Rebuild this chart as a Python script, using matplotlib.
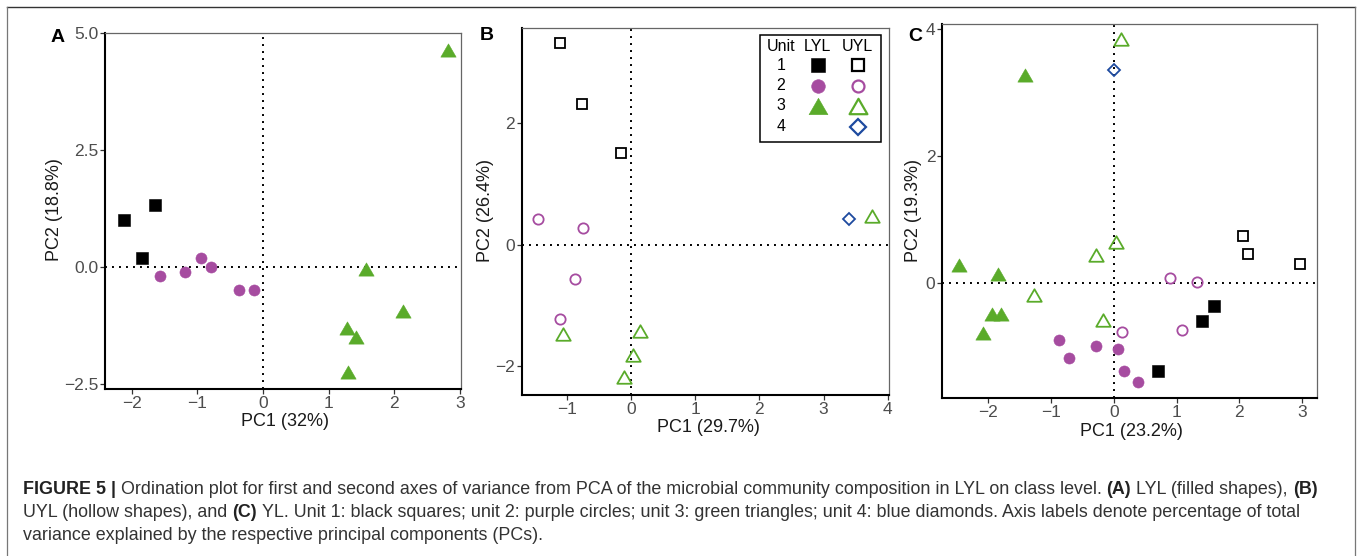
import matplotlib
matplotlib.use('Agg')
import matplotlib.pyplot as plt
from matplotlib.lines import Line2D
from matplotlib.patches import Rectangle
from matplotlib.path import Path

plt.rcParams['font.family'] = ['Liberation Sans', 'DejaVu Sans']

# ---- data ----
# panel A: LYL
a_sq_x = [-2.12, -1.64, -1.84]
a_sq_y = [1.00, 1.33, 0.19]
a_ci_x = [-1.57, -1.19, -0.94, -0.80, -0.37, -0.13]
a_ci_y = [-0.19, -0.11, 0.19, 0.00, -0.49, -0.49]
a_tr_x = [2.82, 1.57, 2.13, 1.28, 1.42, 1.30]
a_tr_y = [4.64, -0.04, -0.93, -1.30, -1.50, -2.23]

# panel B: UYL
b_sq_x = [-1.11, -0.76, -0.15]
b_sq_y = [3.32, 2.32, 1.51]
b_ci_x = [-1.44, -0.75, -0.87, -1.11]
b_ci_y = [0.43, 0.27, -0.56, -1.22]
b_tr_x = [-1.06, 0.14, 0.04, -0.10, 3.76]
b_tr_y = [-1.47, -1.41, -1.81, -2.17, 0.47]
b_di_x = [3.40]
b_di_y = [0.43]

# panel C: YL (filled = LYL, hollow = UYL)
c_ftr_x = [-1.42, -2.47, -1.85, -1.94, -1.80, -2.08]
c_ftr_y = [3.28, 0.29, 0.14, -0.49, -0.49, -0.79]
c_otr_x = [0.12, 0.03, -0.29, -1.27, -0.17]
c_otr_y = [3.85, 0.65, 0.44, -0.18, -0.58]
c_di_x = [0.0]
c_di_y = [3.35]
c_osq_x = [2.05, 2.14, 2.96]
c_osq_y = [0.75, 0.46, 0.31]
c_oci_x = [0.89, 1.33, 1.08, 0.13]
c_oci_y = [0.09, 0.02, -0.73, -0.76]
c_fsq_x = [1.60, 1.41, 0.71]
c_fsq_y = [-0.36, -0.59, -1.38]
c_fci_x = [-0.88, -0.72, -0.28, 0.06, 0.16, 0.39]
c_fci_y = [-0.90, -1.17, -0.98, -1.03, -1.38, -1.55]

x_labels = ['PC1 (32%)', 'PC1 (29.7%)', 'PC1 (23.2%)']
y_labels = ['PC2 (18.8%)', 'PC2 (26.4%)', 'PC2 (19.3%)']
panel_tags = ['A', 'B', 'C']

BLACK = '#000000'
PURPLE = '#A64CA0'
GREEN = '#5AAB2A'
BLUE = '#1D4A9F'
# equilateral-ish triangle, closed so hollow ones get all three sides
TRI = Path([(-1, -0.866), (1, -0.866), (0, 0.866), (-1, -0.866)], closed=True)

W, H = 1357, 556


def fx(x):
    return x / W


def fy(y):
    return 1 - y / H


def filled(ax, x, y, marker, color, ms):
    ax.plot(x, y, linestyle='none', marker=marker, color=color, ms=ms, mec=color, mew=0.4, zorder=3)


def hollow(ax, x, y, marker, color, ms):
    ax.plot(x, y, linestyle='none', marker=marker, mfc='none', mec=color, ms=ms, mew=1.3, zorder=3)


def style(ax, xlim, ylim, xticks, yticks, yfmt):
    ax.set_xlim(*xlim)
    ax.set_ylim(*ylim)
    ax.set_xticks(xticks)
    ax.set_yticks(yticks)
    ax.set_yticklabels([yfmt.format(v).replace('-', '\u2212') for v in yticks])
    ax.axhline(0, color='black', lw=1.4, ls=(0, (1, 2.6)), zorder=1)
    ax.axvline(0, color='black', lw=1.4, ls=(0, (1, 2.6)), zorder=1)
    for s in ['left', 'bottom']:
        ax.spines[s].set_color('black')
        ax.spines[s].set_linewidth(1.5)
    for s in ['top', 'right']:
        ax.spines[s].set_color('#666666')
        ax.spines[s].set_linewidth(0.9)
    ax.tick_params(length=3.5, width=0.9, color='#333333', labelcolor='#4D4D4D',
                   labelsize=12.5, pad=1.5)


fig = plt.figure(figsize=(W / 100, H / 100), dpi=100)

# axes boxes in pixels: left, top, right, bottom
boxes = [(105, 33, 461, 389), (521.7, 27.7, 889, 395), (942.3, 24, 1316.7, 398.3)]
axs = []
for l, t, r, b in boxes:
    axs.append(fig.add_axes([fx(l), fy(b), (r - l) / W, (b - t) / H]))
axA, axB, axC = axs

# A
filled(axA, a_sq_x, a_sq_y, 's', BLACK, 8.2)
filled(axA, a_ci_x, a_ci_y, 'o', PURPLE, 8.0)
filled(axA, a_tr_x, a_tr_y, TRI, GREEN, 11.0)
style(axA, (-2.41, 3.02), (-2.6, 5.0), [-2, -1, 0, 1, 2, 3], [-2.5, 0.0, 2.5, 5.0], '{:.1f}')

# B
hollow(axB, b_sq_x, b_sq_y, 's', BLACK, 7.6)
hollow(axB, b_ci_x, b_ci_y, 'o', PURPLE, 7.4)
hollow(axB, b_tr_x, b_tr_y, TRI, GREEN, 10.4)
hollow(axB, b_di_x, b_di_y, 'D', BLUE, 6.6)
style(axB, (-1.70, 4.02), (-2.47, 3.57), [-1, 0, 1, 2, 3, 4], [-2, 0, 2], '{:d}')

# C
filled(axC, c_ftr_x, c_ftr_y, TRI, GREEN, 11.0)
hollow(axC, c_otr_x, c_otr_y, TRI, GREEN, 10.4)
hollow(axC, c_di_x, c_di_y, 'D', BLUE, 6.6)
hollow(axC, c_osq_x, c_osq_y, 's', BLACK, 7.6)
hollow(axC, c_oci_x, c_oci_y, 'o', PURPLE, 7.4)
filled(axC, c_fsq_x, c_fsq_y, 's', BLACK, 8.2)
filled(axC, c_fci_x, c_fci_y, 'o', PURPLE, 8.0)
style(axC, (-2.73, 3.23), (-1.81, 4.08), [-2, -1, 0, 1, 2, 3], [0, 2, 4], '{:d}')

# axis titles and panel tags (pixel positions)
xlab_pos = [(285, 421.7), (708, 427.7), (1131, 431.7)]
ylab_pos = [(55, 210), (485, 210), (913, 210)]
tag_pos = [(58, 37), (486.7, 36), (915, 36.7)]
for i in range(3):
    fig.text(fx(xlab_pos[i][0]), fy(xlab_pos[i][1]), x_labels[i], ha='center', va='center',
             fontsize=13, color='#1A1A1A')
    fig.text(fx(ylab_pos[i][0]), fy(ylab_pos[i][1]), y_labels[i], ha='center', va='center',
             rotation=90, fontsize=13, color='#1A1A1A')
    fig.text(fx(tag_pos[i][0]), fy(tag_pos[i][1]), panel_tags[i], ha='center', va='center',
             fontsize=14, fontweight='bold', color='black')

# legend table in panel B
l, t, r, b = boxes[1]
side = r - l


def bx(x):
    return (x - l) / side


def by(y):
    return (b - y) / side


axB.add_patch(Rectangle((bx(760), by(141.7)), bx(881) - bx(760), by(35) - by(141.7),
                        transform=axB.transAxes, fill=True, fc='white', ec='black', lw=1.1, zorder=5))
leg_rows = ['1', '2', '3', '4']
row_y = [65, 85.7, 106, 126.7]
col_unit, col_lyl, col_uyl = 781, 817.7, 857.7
for txt, cx in [('Unit', col_unit), ('LYL', col_lyl), ('UYL', col_uyl)]:
    axB.text(bx(cx), by(46.7), txt, transform=axB.transAxes, ha='center', va='center',
             fontsize=11.5, zorder=6)
lyl_keys = [('s', BLACK, 10.0), ('o', PURPLE, 9.8), (TRI, GREEN, 13.6), None]
uyl_keys = [('s', BLACK, 8.8), ('o', PURPLE, 8.6), (TRI, GREEN, 12.8), ('D', BLUE, 7.8)]
for i, lab in enumerate(leg_rows):
    axB.text(bx(col_unit), by(row_y[i]), lab, transform=axB.transAxes, ha='center', va='center',
             fontsize=11.5, zorder=6)
    if lyl_keys[i] is not None:
        m, c, s = lyl_keys[i]
        axB.plot([bx(col_lyl)], [by(row_y[i])], transform=axB.transAxes, marker=m, color=c, ms=s,
                 mec=c, mew=0.4, linestyle='none', zorder=6, clip_on=False)
    m, c, s = uyl_keys[i]
    axB.plot([bx(col_uyl)], [by(row_y[i])], transform=axB.transAxes, marker=m, mfc='none', mec=c,
             ms=s, mew=1.6, linestyle='none', zorder=6, clip_on=False)

# outer frame
fig.add_artist(Line2D([fx(7), fx(1355)], [fy(7), fy(7)], color='#333333', lw=1.0))
fig.add_artist(Line2D([fx(7), fx(7)], [fy(7), fy(556)], color='#777777', lw=0.9))
fig.add_artist(Line2D([fx(1355), fx(1355)], [fy(7), fy(556)], color='#777777', lw=0.9))

# caption
renderer = fig.canvas.get_renderer()
cap_size = 12.9
cap_color = '#333333'
probe1 = fig.text(0, 0, 'a a', fontsize=cap_size)
probe2 = fig.text(0, 0, 'aa', fontsize=cap_size)
space = probe1.get_window_extent(renderer).width - probe2.get_window_extent(renderer).width
probe1.remove()
probe2.remove()

cap_lines = [
    [('FIGURE 5 |', True),
     ('Ordination plot for first and second axes of variance from PCA of the microbial community '
      'composition in LYL on class level.', False),
     ('(A)', True), ('LYL (filled shapes),', False), ('(B)', True)],
    [('UYL (hollow shapes), and', False), ('(C)', True),
     ('YL. Unit 1: black squares; unit 2: purple circles; unit 3: green triangles; unit 4: blue '
      'diamonds. Axis labels denote percentage of total', False)],
    [('variance explained by the respective principal components (PCs).', False)],
]
cap_base = [494, 517, 540]
for parts, yb in zip(cap_lines, cap_base):
    xp = 22.7
    for txt, bold in parts:
        tx = fig.text(fx(xp), fy(yb), txt, fontsize=cap_size, va='baseline', ha='left',
                      fontweight='bold' if bold else 'normal',
                      color='#222222' if bold else cap_color)
        xp += tx.get_window_extent(renderer).width + space

fig.savefig('out.png', dpi=100)
